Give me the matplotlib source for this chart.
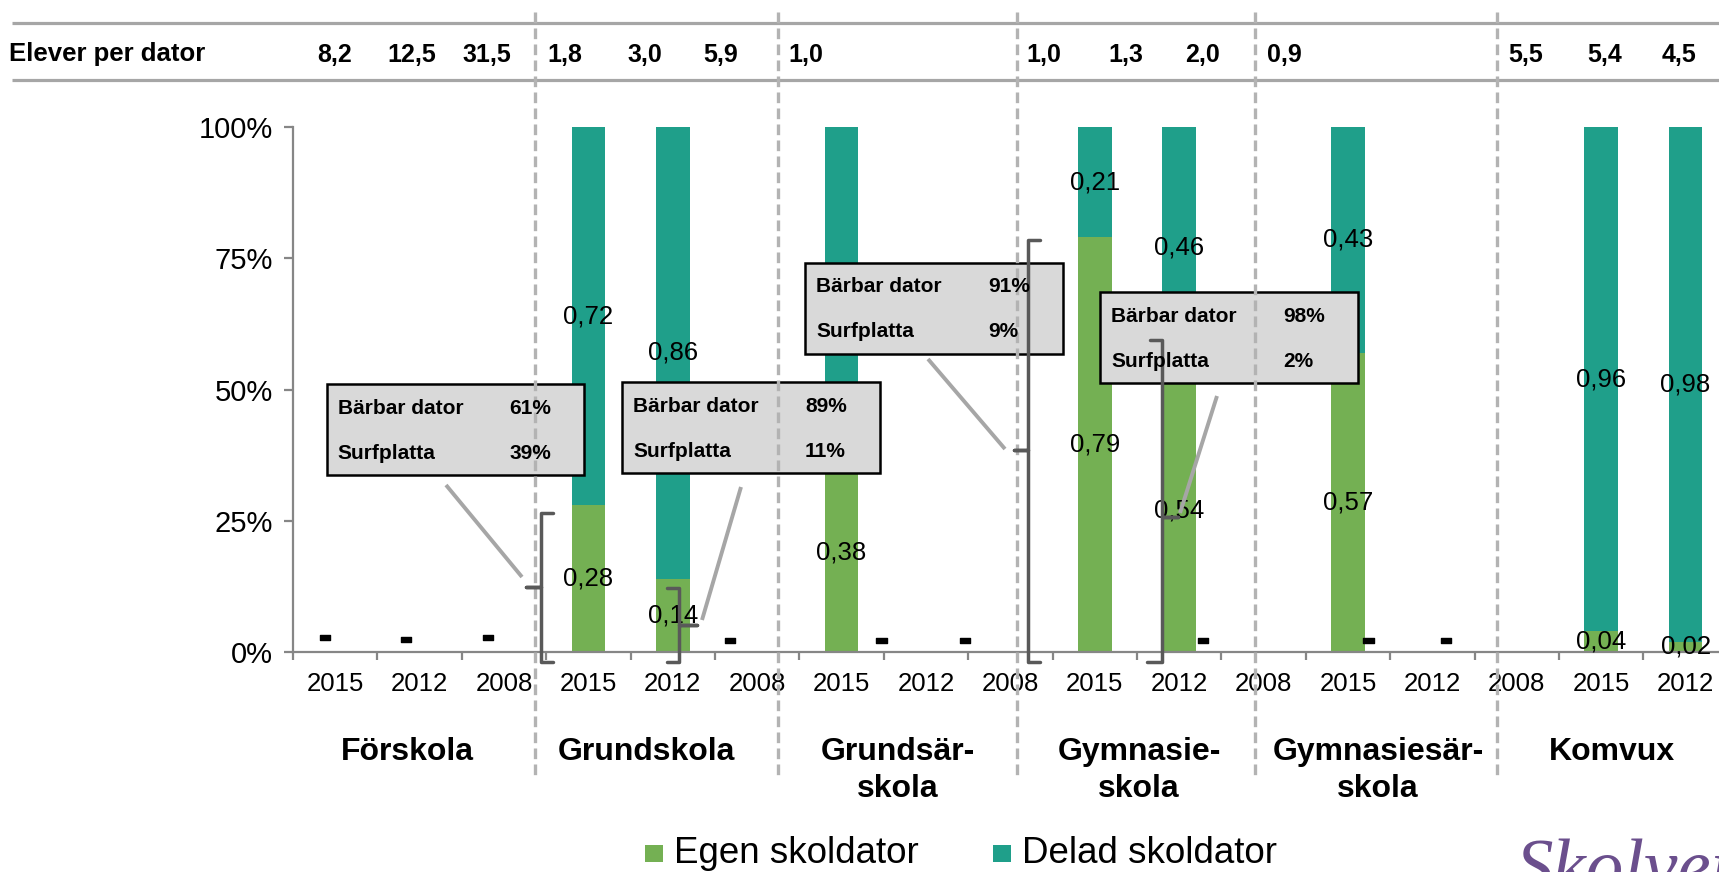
import matplotlib
matplotlib.use('Agg')
import matplotlib.pyplot as plt
from matplotlib.patches import Rectangle
from matplotlib.transforms import blended_transform_factory
import matplotlib.patheffects as pe
import numpy as np

plt.rcParams['font.family'] = ['Liberation Sans', 'DejaVu Sans']

W, H = 1719, 872

# data
groups = ['Förskola', 'Grundskola', 'Grundsär-\nskola', 'Gymnasie-\nskola', 'Gymnasiesär-\nskola', 'Komvux']
years = ['2015', '2012', '2008']
# 18 staplar: tre år per skolform (Komvux 2008 hamnar utanför bilden)
egen = [0, 0, 0, 0.28, 0.14, 0, 0.38, 0, 0, 0.79, 0.54, 0, 0.57, 0, 0, 0.04, 0.02, 0]
delad = [0, 0, 0, 0.72, 0.86, 0, 0.62, 0, 0, 0.21, 0.46, 0, 0.43, 0, 0, 0.96, 0.98, 0]
saknas = [0, 1, 2, 5, 7, 8, 11, 13, 14]   # staplar som visas med "-"
elever_per_dator = ['8,2', '12,5', '31,5', '1,8', '3,0', '5,9', '1,0',
                    '1,0', '1,3', '2,0', '0,9', '5,5', '5,4', '4,5']
barbar = ['61%', '89%', '91%', '98%']
surfplatta = ['39%', '11%', '9%', '2%']

# layout (pixels in the 1719x872 picture)
header_x = [334.6, 411.4, 487, 565, 644.6, 721, 806, 1043.6, 1125.8, 1202.5, 1284.7, 1525.8, 1605, 1679]
group_x = [407, 646, 898, 1139, 1378, 1612]
dash_shift = [-0.12, -0.16, -0.19, -0.32, -0.53, -0.54, -0.72, -0.76, -0.84]
dash_y = [648, 650, 648, 651, 651, 651, 651, 651, 651]
sep_x = [535, 778, 1017, 1255, 1497]
box_xy = [(326.5, 384), (622, 382.5), (805, 262.5), (1100, 292)]
leaders = [((446, 485), (522, 577)), ((741, 487), (702, 620)),
           ((928, 359), (1005, 449)), ((1217, 396), (1180, 513))]
brackets = [
    [(553, 513), (541, 513), (541, 587), (526, 587), (541, 587), (541, 662), (553, 662)],
    [(667, 588), (679, 588), (679, 625), (697, 625), (679, 625), (679, 662), (667, 662)],
    [(1040, 240), (1028, 240), (1028, 450), (1014, 450), (1028, 450), (1028, 662), (1040, 662)],
    [(1150, 340), (1162, 340), (1162, 517), (1178, 517), (1162, 517), (1162, 662), (1147, 662)],
]

green = '#74B053'
teal = '#1F9F8A'
axgray = '#868686'

fig = plt.figure(figsize=(W / 100, H / 100), dpi=100)

x0, slot = 293, 84.4
ax = fig.add_axes([x0 / W, 1 - 652 / H, 18 * slot / W, 525 / H], zorder=1)
ov = fig.add_axes([0, 0, 1, 1], zorder=2)
ov.set_xlim(0, W)
ov.set_ylim(H, 0)
ov.axis('off')

x = np.arange(18)
ax.bar(x, egen, width=0.40, color=green, zorder=2)
ax.bar(x, delad, bottom=egen, width=0.40, color=teal, zorder=2)
ax.set_xlim(-0.5, 17.5)
ax.set_ylim(0, 1)

def fmt(v):
    return f'{v:.2f}'.replace('.', ',')

for i in range(18):
    if egen[i] > 0:
        ax.text(i, egen[i] / 2, fmt(egen[i]), ha='center', va='center', fontsize=18.5, zorder=3)
    if delad[i] > 0:
        ax.text(i, egen[i] + delad[i] / 2, fmt(delad[i]), ha='center', va='center', fontsize=18.5, zorder=3)

xpx = blended_transform_factory(ax.transData, ov.transData)
for k, i in enumerate(saknas):
    ax.text(i + dash_shift[k], dash_y[k], '-', transform=xpx, ha='center', va='baseline',
            fontsize=30, fontweight='bold', zorder=3,
            path_effects=[pe.withStroke(linewidth=1.0, foreground='black')])

for s in ['top', 'right']:
    ax.spines[s].set_visible(False)
for s in ['left', 'bottom']:
    ax.spines[s].set_color(axgray)
    ax.spines[s].set_linewidth(1.6)

ax.set_yticks([0, 0.25, 0.5, 0.75, 1.0])
ax.set_yticklabels(['0%', '25%', '50%', '75%', '100%'], fontsize=21)
ax.tick_params(axis='y', length=6.5, width=1.6, color=axgray, pad=8)
ax.set_xticks(np.arange(-0.5, 18, 1))
ax.set_xticklabels([])
ax.tick_params(axis='x', length=5.8, width=1.6, color=axgray)

for i in range(18):
    ax.text(i, 684, years[i % 3], transform=xpx, ha='center', va='center', fontsize=18.5, clip_on=False)

# group labels
for g, gx in zip(groups, group_x):
    for j, line in enumerate(g.split('\n')):
        ov.text(gx, 752 + j * 37, line, ha='center', va='center', fontsize=23, fontweight='bold')

# header
ov.plot([12, W], [22.7, 22.7], color='#a6a6a6', lw=2.3, solid_capstyle='butt')
ov.plot([12, W], [80, 80], color='#a6a6a6', lw=2.3, solid_capstyle='butt')
ov.text(9, 54, 'Elever per dator', ha='left', va='center', fontsize=18.5, fontweight='bold')
for hx, v in zip(header_x, elever_per_dator):
    ov.text(hx, 55, v, ha='center', va='center', fontsize=18, fontweight='bold')

# separators
for sx in sep_x:
    ov.plot([sx, sx], [12, 778], color='#b3b3b3', lw=2.4, ls=(0, (3.2, 1.6)))

# leader lines and brackets
for (a, b) in leaders:
    ov.plot([a[0], b[0]], [a[1], b[1]], color='#a6a6a6', lw=2.8, solid_capstyle='butt')
for br in brackets:
    bx, by = zip(*br)
    ov.plot(bx, by, color='#595959', lw=2.5, solid_joinstyle='round', solid_capstyle='round')

# callout boxes
for (bx, by), b, s in zip(box_xy, barbar, surfplatta):
    ov.add_patch(Rectangle((bx, by), 257.5, 91, facecolor='#d9d9d9', edgecolor='black', lw=1.8))
    ov.text(bx + 11, by + 24, 'Bärbar dator', ha='left', va='center', fontsize=15, fontweight='bold')
    ov.text(bx + 183, by + 24, b, ha='left', va='center', fontsize=15, fontweight='bold')
    ov.text(bx + 11, by + 69, 'Surfplatta', ha='left', va='center', fontsize=15, fontweight='bold')
    ov.text(bx + 183, by + 69, s, ha='left', va='center', fontsize=15, fontweight='bold')

# legend
ov.add_patch(Rectangle((645, 845), 18, 17, facecolor=green, edgecolor='none'))
ov.text(674, 853, 'Egen skoldator', ha='left', va='center', fontsize=26.5)
ov.add_patch(Rectangle((993, 845), 18, 17, facecolor=teal, edgecolor='none'))
ov.text(1022, 853, 'Delad skoldator', ha='left', va='center', fontsize=26.5)

# logo
ov.text(1515, 890, 'Skolverket', ha='left', va='baseline', fontsize=54,
        family=['Liberation Serif', 'DejaVu Serif'], style='italic', color='#6b4f8d')

fig.savefig('out.png', dpi=100)
